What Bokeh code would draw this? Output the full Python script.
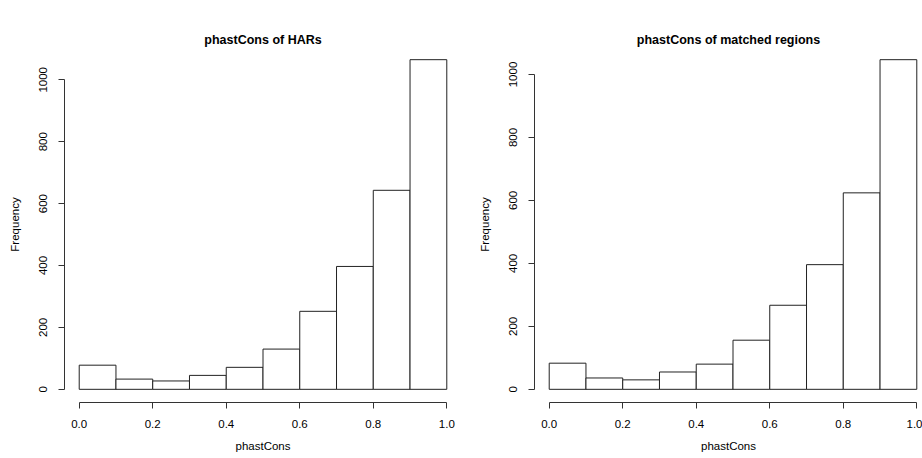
from bokeh.plotting import figure
from bokeh.layouts import row
from bokeh.models import FixedTicker, Range1d, PrintfTickFormatter
from bokeh.embed import file_html
from bokeh.resources import INLINE

# ---- data ----
bin_left = [0.0, 0.1, 0.2, 0.3, 0.4, 0.5, 0.6, 0.7, 0.8, 0.9]
bin_right = [0.1, 0.2, 0.3, 0.4, 0.5, 0.6, 0.7, 0.8, 0.9, 1.0]
har_counts = [78, 33, 27, 45, 71, 130, 252, 397, 643, 1065]
matched_counts = [83, 36, 30, 55, 80, 156, 267, 396, 624, 1047]
x_ticks = [0.0, 0.2, 0.4, 0.6, 0.8, 1.0]
y_ticks = [0, 200, 400, 600, 800, 1000]
titles = ["phastCons of HARs", "phastCons of matched regions"]
x_label = "phastCons"
y_label = "Frequency"

FONT = "Liberation Sans"
FRAME_W = 397
FRAME_H = 356
TOP = 46
BOTTOM = 56


def make_hist(counts, title, width, border_left, border_right, frame_w):
    ymax = max(counts)
    x_end = -0.04 + 1.08 * frame_w / FRAME_W
    p = figure(width=width, height=TOP + FRAME_H + BOTTOM,
               x_range=Range1d(-0.04, x_end),
               y_range=Range1d(-0.04 * ymax, 1.04 * ymax),
               output_backend="svg", toolbar_location=None,
               min_border_left=border_left, min_border_right=border_right,
               min_border_top=TOP, min_border_bottom=BOTTOM)
    p.quad(left=bin_left, right=bin_right, bottom=0, top=counts,
           fill_color="white", line_color="#222222", line_width=1)
    p.outline_line_color = None
    p.xgrid.visible = False
    p.ygrid.visible = False
    p.background_fill_color = "white"
    p.border_fill_color = "white"

    p.title.text = title
    p.title.align = "center"
    p.title.text_font = FONT
    p.title.text_font_size = "12.5px"
    p.title.text_font_style = "bold"
    p.title.text_color = "black"
    p.title.standoff = 0

    for ax, ticks, lab in ((p.xaxis[0], x_ticks, x_label), (p.yaxis[0], y_ticks, y_label)):
        ax.ticker = FixedTicker(ticks=ticks)
        ax.bounds = (ticks[0], ticks[-1])
        ax.axis_label = lab
        ax.axis_label_text_font = FONT
        ax.axis_label_text_font_size = "11.5px"
        ax.axis_label_text_font_style = "normal"
        ax.axis_label_text_color = "black"
        ax.major_label_text_font = FONT
        ax.major_label_text_font_size = "11.5px"
        ax.major_label_text_color = "black"
        ax.axis_line_color = "#333333"
        ax.major_tick_line_color = "#333333"
        ax.major_tick_in = 0
        ax.major_tick_out = 6
        ax.minor_tick_line_color = None

    p.xaxis[0].formatter = PrintfTickFormatter(format="%.1f")
    p.xaxis[0].major_label_standoff = 11
    p.xaxis[0].axis_label_standoff = 9
    p.yaxis[0].major_label_orientation = "vertical"
    p.yaxis[0].major_label_standoff = 11
    p.yaxis[0].axis_label_standoff = 16
    return p


p1 = make_hist(har_counts, titles[0], 470, 64, 9, FRAME_W)
p2 = make_hist(matched_counts, titles[1], 452, 64, 0, 388)
layout = row(p1, p2)

open("out.html", "w").write(file_html(layout, INLINE))
